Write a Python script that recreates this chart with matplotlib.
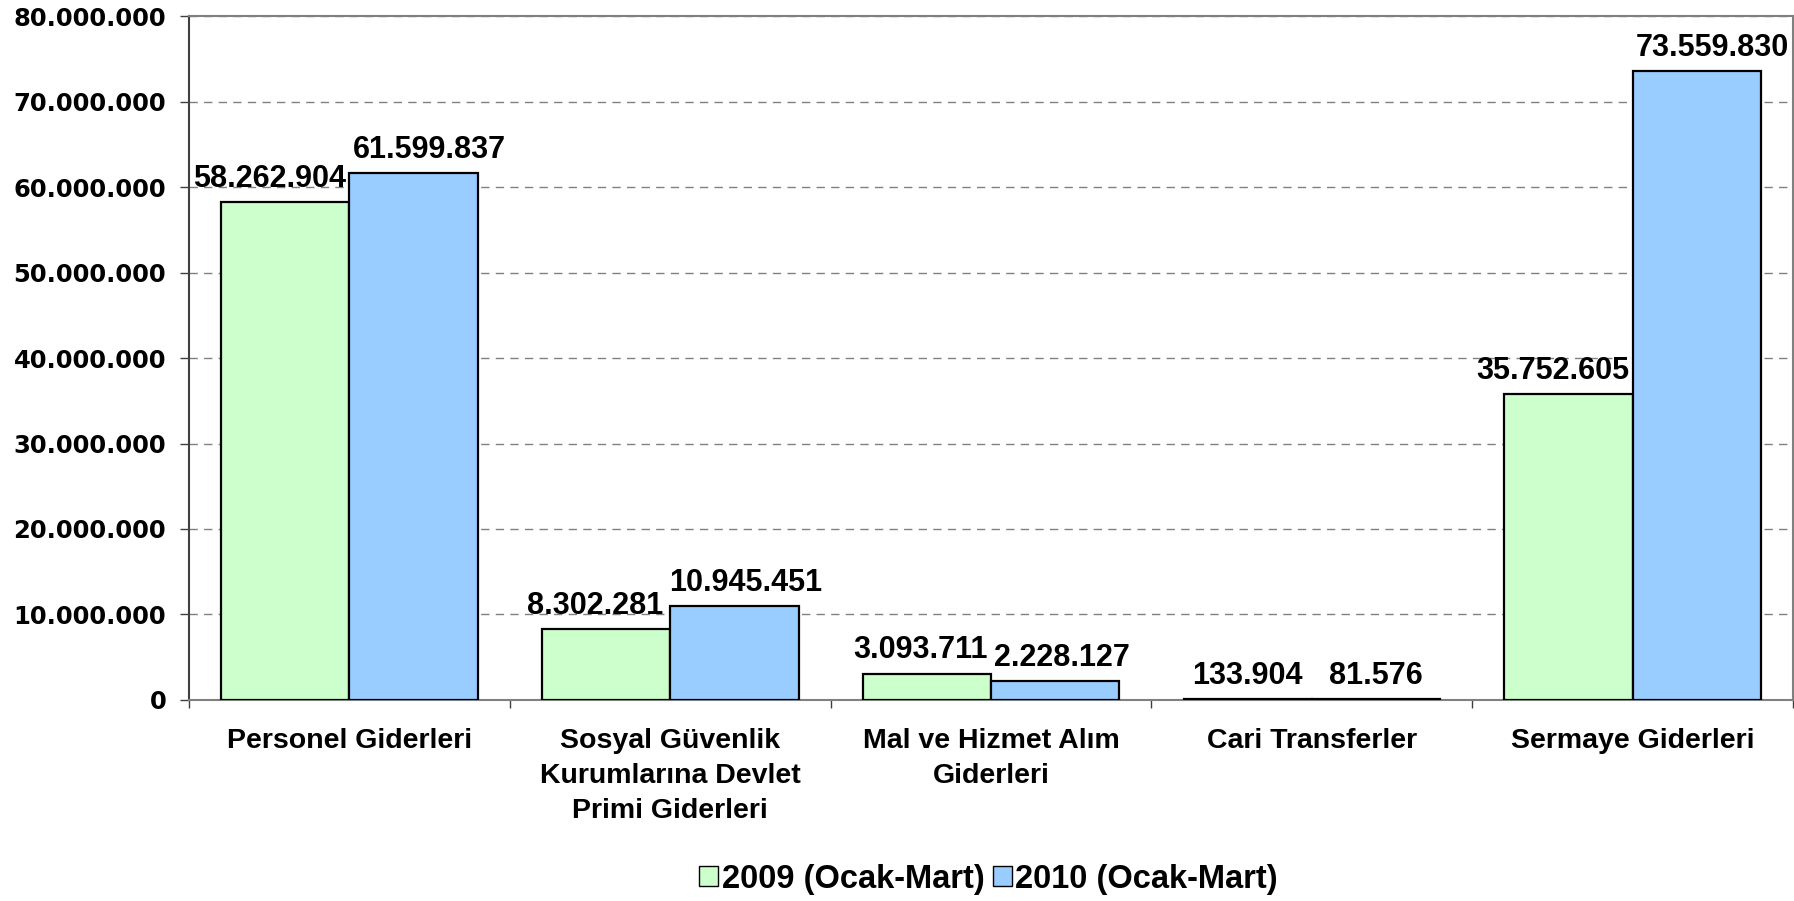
import matplotlib
matplotlib.use("Agg")
import matplotlib.pyplot as plt
from matplotlib.ticker import FuncFormatter

CATEGORIES = ["Personel Giderleri",
              "Sosyal Güvenlik\nKurumlarına Devlet\nPrimi Giderleri",
              "Mal ve Hizmet Alım\nGiderleri",
              "Cari Transferler",
              "Sermaye Giderleri"]
VALUES_2009 = [58262904, 8302281, 3093711, 133904, 35752605]
VALUES_2010 = [61599837, 10945451, 2228127, 81576, 73559830]
SERIES_NAMES = ["2009 (Ocak-Mart)", "2010 (Ocak-Mart)"]
COLORS = ["#CCFFCC", "#99CCFF"]
YTICKS = [0, 10000000, 20000000, 30000000, 40000000, 50000000, 60000000, 70000000, 80000000]

ARIAL = "Liberation Sans"


def dotted(v, pos=None):
    return f"{int(v):,}".replace(",", ".")


fig = plt.figure(figsize=(17.94, 9.01), dpi=100)
ax = fig.add_axes([0.1054, 0.2231, 0.8941, 0.7591])

x = list(range(len(CATEGORIES)))
w = 0.4
bars = []
for k, (vals, col) in enumerate(zip([VALUES_2009, VALUES_2010], COLORS)):
    xs = [i - w / 2 + k * w for i in x]
    b = ax.bar(xs, vals, width=w, color=col, edgecolor="black", linewidth=1.6,
               label=SERIES_NAMES[k], zorder=3)
    bars.append(b)

ax.set_xlim(-0.5, len(CATEGORIES) - 0.5)
ax.set_ylim(0, 80000000)
ax.set_yticks(YTICKS)
ax.yaxis.set_major_formatter(FuncFormatter(dotted))
ax.tick_params(axis="y", length=6.5, width=1, color="#404040", pad=10,
               labelsize=17.5)
for t in ax.get_yticklabels():
    t.set_fontweight("bold")
    t.set_family("DejaVu Sans")

# boundary ticks (major) and category labels (minor)
ax.set_xticks([i + 0.5 for i in range(-1, len(CATEGORIES))])
ax.set_xticklabels([])
ax.tick_params(axis="x", which="major", length=6, width=1, color="#404040")
ax.set_xticks(x, minor=True)
ax.set_xticklabels(CATEGORIES, minor=True, fontsize=20.5, fontweight="bold",
                   family=ARIAL, linespacing=1.45)
ax.tick_params(axis="x", which="minor", length=0, pad=20)

ax.yaxis.grid(True, linestyle=(0, (6, 4.5)), color="#808080", linewidth=1, zorder=0)
ax.set_axisbelow(True)
ax.spines["left"].set_color("#404040")
for s in ["top", "right", "bottom"]:
    ax.spines[s].set_color("#808080")
for s in ax.spines.values():
    s.set_linewidth(1.5)

# value labels, pushed apart horizontally when neighbours would collide
labels = []
for b in bars:
    row = []
    for r in b:
        t = ax.annotate(dotted(r.get_height()),
                        (r.get_x() + r.get_width() / 2, r.get_height()),
                        xytext=(0, 6), textcoords="offset points",
                        ha="center", va="bottom", fontsize=22,
                        fontweight="bold", family=ARIAL, zorder=4)
        row.append(t)
    labels.append(row)

fig.canvas.draw()
rend = fig.canvas.get_renderer()
gap = 6
for g, b in zip(labels[0], labels[1]):
    e1 = g.get_window_extent(rend)
    e2 = b.get_window_extent(rend)
    over = e1.x1 + gap - e2.x0
    if over > 0:
        s = over / 2 * 72 / fig.dpi
        g.xyann = (g.xyann[0] - s, g.xyann[1])
        b.xyann = (b.xyann[0] + s, b.xyann[1])

leg = fig.legend(handles=bars, labels=SERIES_NAMES, loc="center",
                 bbox_to_anchor=(0.551, 0.0244), ncol=2, frameon=False,
                 prop={"family": ARIAL, "weight": "bold", "size": 23.5},
                 handlelength=0.6, handleheight=0.6, handletextpad=0.1,
                 columnspacing=0.25, borderpad=0.1)
for h in leg.legend_handles:
    h.set_linewidth(1)

fig.savefig("out.png", dpi=100)
